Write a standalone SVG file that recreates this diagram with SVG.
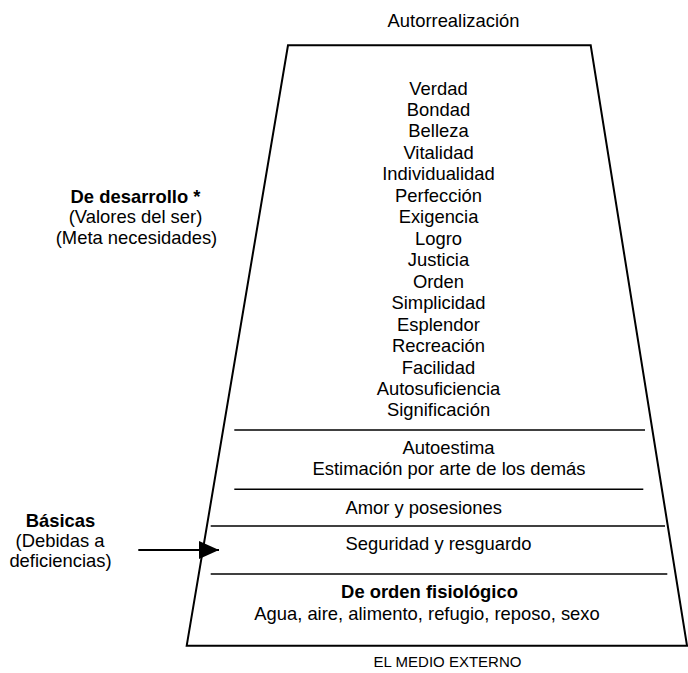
<svg xmlns="http://www.w3.org/2000/svg" width="688" height="673" viewBox="0 0 688 673">
  <style>
    text { font-family: "Liberation Sans", Arial, sans-serif; font-size: 18.4px; fill: #000; text-anchor: middle; }
    .b { font-weight: bold; }
    .sm { font-size: 15px; }
    .edge { fill: none; stroke: #000; stroke-width: 2; }
    .div { stroke: #000; stroke-width: 1.6; }
  </style>
  <defs>
    <marker id="arrow" markerWidth="20" markerHeight="18" refX="20" refY="9" orient="auto" markerUnits="userSpaceOnUse">
      <path d="M0,0 L20,9 L0,18 Z" fill="#000"/>
    </marker>
  </defs>
  <rect width="688" height="673" fill="#fff"/>

  <g id="top-label">
    <text x="453.5" y="27">Autorrealización</text>
  </g>

  <g id="pyramid">
    <path class="edge" d="M288,45.3 L590.7,45.3 L687,645.7 L186.7,645.7 Z"/>
  </g>

  <g id="level-meta">
    <text x="438.5" y="94.5">Verdad</text>
    <text x="438.5" y="116">Bondad</text>
    <text x="438.5" y="137.4">Belleza</text>
    <text x="438.5" y="158.9">Vitalidad</text>
    <text x="438.5" y="180.3">Individualidad</text>
    <text x="438.5" y="201.8">Perfección</text>
    <text x="438.5" y="223.3">Exigencia</text>
    <text x="438.5" y="244.7">Logro</text>
    <text x="438.5" y="266.2">Justicia</text>
    <text x="438.5" y="287.6">Orden</text>
    <text x="438.5" y="309.1">Simplicidad</text>
    <text x="438.5" y="330.6">Esplendor</text>
    <text x="438.5" y="352">Recreación</text>
    <text x="438.5" y="373.5">Facilidad</text>
    <text x="438.5" y="394.9">Autosuficiencia</text>
    <text x="438.5" y="416.4">Significación</text>
  </g>

  <g id="dividers">
    <line class="div" x1="234.3" y1="430" x2="645" y2="430"/>
    <line class="div" x1="234.3" y1="489.3" x2="643.3" y2="489.3"/>
    <line class="div" x1="210.7" y1="526" x2="665" y2="526"/>
    <line class="div" x1="210.7" y1="574" x2="667.3" y2="574"/>
  </g>

  <g id="level-autoestima">
    <text x="448.5" y="454.3">Autoestima</text>
    <text x="449" y="475.3">Estimación por arte de los demás</text>
  </g>

  <g id="level-amor">
    <text x="423.7" y="514">Amor y posesiones</text>
  </g>

  <g id="level-seguridad">
    <text x="438.5" y="550">Seguridad y resguardo</text>
  </g>

  <g id="level-fisiologico">
    <text class="b" x="429.5" y="597.5">De orden fisiológico</text>
    <text x="427" y="620">Agua, aire, alimento, refugio, reposo, sexo</text>
  </g>

  <g id="bottom-label">
    <text class="sm" x="447.5" y="667">EL MEDIO EXTERNO</text>
  </g>

  <g id="label-desarrollo">
    <text class="b" x="135.5" y="203">De desarrollo *</text>
    <text x="135.5" y="223">(Valores del ser)</text>
    <text x="136.5" y="244">(Meta necesidades)</text>
  </g>

  <g id="label-basicas">
    <text class="b" x="60.5" y="526.7">Básicas</text>
    <text x="60" y="546.7">(Debidas a</text>
    <text x="60.5" y="566.7">deficiencias)</text>
  </g>

  <g id="connectors">
    <line x1="138.3" y1="550" x2="219" y2="550" stroke="#000" stroke-width="2" marker-end="url(#arrow)"/>
  </g>
</svg>
